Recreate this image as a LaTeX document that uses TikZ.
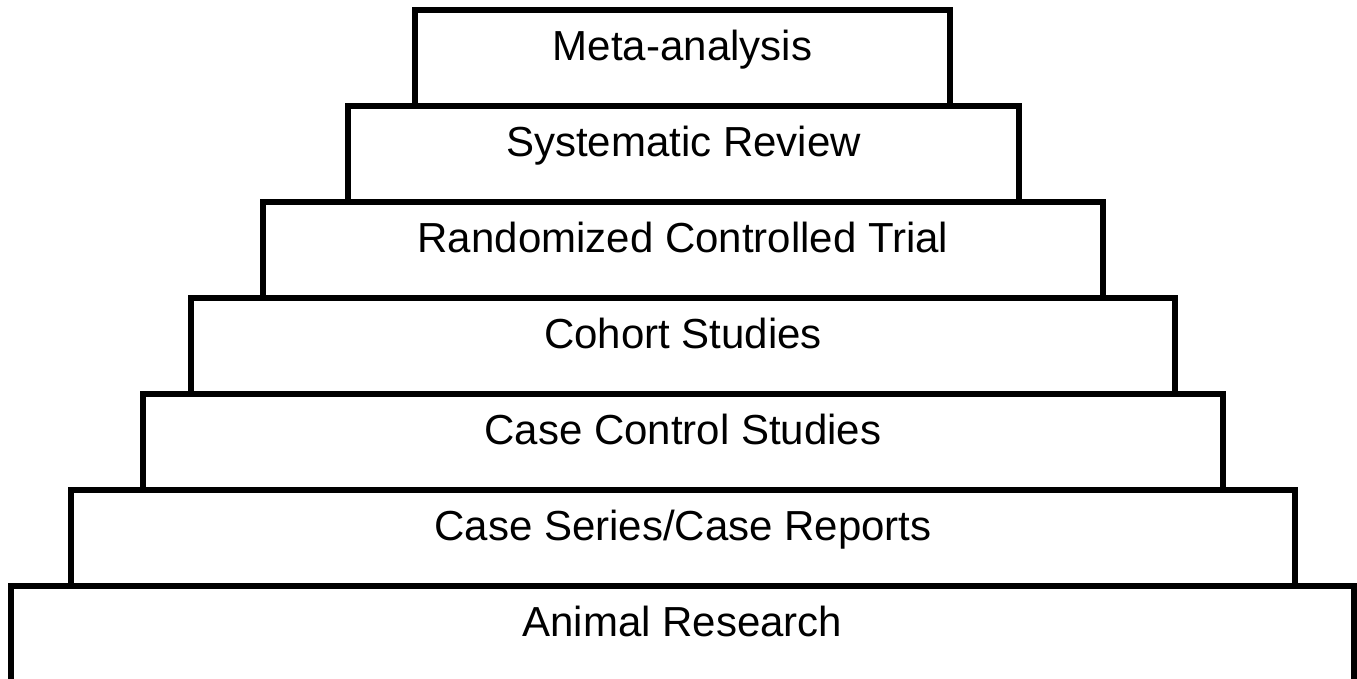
\documentclass[tikz,border=0pt]{standalone}
\usepackage{fontspec}
\setmainfont{Liberation Sans}
\begin{document}
\begin{tikzpicture}[x=1pt,y=-1pt,
  tier/.style={draw=black, line width=5.5pt, fill=none, inner sep=0pt, minimum height=96pt, rectangle},
  lbl/.style={font=\fontsize{42}{50}\selectfont, inner sep=0pt, anchor=base}]
\useasboundingbox (0,0) rectangle (1357,679);
\fill[white] (0,0) rectangle (1357,679);
\node[tier, minimum width=535pt] (meta) at (682.5,58) {};
\node[tier, minimum width=671pt] (sys) at (683.5,154) {};
\node[tier, minimum width=840pt] (rct) at (683,250) {};
\node[tier, minimum width=984pt] (coh) at (683,346) {};
\node[tier, minimum width=1080pt] (cc) at (683,442) {};
\node[tier, minimum width=1224pt] (cs) at (683,538) {};
\node[tier, minimum width=1343pt] (ani) at (682.5,634) {};
\node[lbl] (tmeta) at ([yshift=-53pt]meta.north) {Meta-analysis};
\node[lbl] (tsys) at ([yshift=-53pt]sys.north) {Systematic Review};
\node[lbl] (trct) at ([yshift=-53pt]rct.north) {Randomized Controlled Trial};
\node[lbl] (tcoh) at ([yshift=-53pt]coh.north) {Cohort Studies};
\node[lbl] (tcc) at ([yshift=-53pt]cc.north) {Case Control Studies};
\node[lbl] (tcs) at ([yshift=-53pt]cs.north) {Case Series/Case Reports};
\node[lbl] (tani) at ([yshift=-53pt]ani.north) {Animal Research};
\end{tikzpicture}
\end{document}
